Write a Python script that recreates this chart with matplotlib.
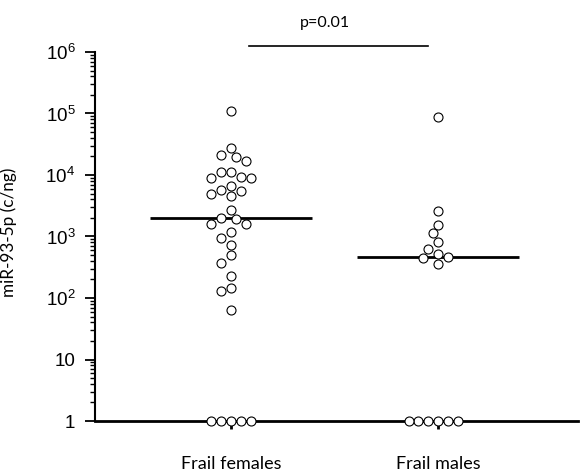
import numpy as np
import matplotlib
matplotlib.use("Agg")
import matplotlib.pyplot as plt
from matplotlib.ticker import LogLocator, FixedLocator, FixedFormatter, NullFormatter

plt.rcParams['font.family'] = ['Liberation Sans', 'DejaVu Sans']
CAL = ['Lato', 'DejaVu Sans']

categories = ["Frail females", "Frail males"]
# undetected samples are plotted at the axis floor (1 c/ng)
female_values = [110000, 27500, 21400, 19500, 16600, 11200, 11000, 9100, 9000, 9200,
                 6600, 5750, 5560, 4900, 4570, 2700, 2000, 1950, 1620, 1620, 1200,
                 955, 740, 500, 370, 230, 145, 132, 63,
                 1, 1, 1, 1, 1]
male_values = [87000, 2570, 1550, 1120, 810, 615, 510, 470, 450, 355,
               1, 1, 1, 1, 1, 1]
medians = [2000, 460]
p_text = "p=0.01"

W, H = 582, 472
fig = plt.figure(figsize=(W / 100, H / 100), dpi=100)
ax_l, ax_r, ax_b, ax_t = 95, 578, 421, 52
ax = fig.add_axes([ax_l / W, 1 - ax_b / H, (ax_r - ax_l) / W, (ax_b - ax_t) / H])
ax.set_yscale('log')
ax.set_ylim(1, 1e6)
ax.set_xlim(-0.657, 1.676)

px_per_unit = 207.0
px_per_decade = (ax_b - ax_t) / 6.0
diam = 9.8


def swarm(values):
    ys = np.log10(values) * px_per_decade
    order = np.argsort(-ys)
    placed = []
    offs = np.zeros(len(values))
    for i in order:
        y = ys[i]
        k = 0.0
        while True:
            cands = [0.0] if k == 0 else [-k * diam, k * diam]
            ok = None
            for c in cands:
                if all((c - px) ** 2 + (y - py) ** 2 >= (diam * 0.98) ** 2 for px, py in placed):
                    ok = c
                    break
            if ok is not None:
                offs[i] = ok
                placed.append((ok, y))
                break
            k += 0.5
    return offs / px_per_unit


for xi, (vals, med) in enumerate(zip([female_values, male_values], medians)):
    vals = np.array(vals, dtype=float)
    xo = swarm(vals)
    ax.plot([xi - 0.39, xi + 0.39], [med, med], color='black', lw=2, zorder=2,
            solid_capstyle='butt')
    ax.scatter(xi + xo, vals, s=42, facecolor='white', edgecolor='black',
               linewidth=0.8, zorder=3, clip_on=False)

for s in ['top', 'right']:
    ax.spines[s].set_visible(False)
ax.spines['bottom'].set_linewidth(2)
ax.spines['left'].set_linewidth(1.5)
ax.spines['bottom'].set_zorder(1)

ax.set_xticks([0, 1])
ax.set_xticklabels(categories, fontsize=13, family=CAL)
ax.tick_params(axis='x', length=6, width=2, pad=19, direction='out')

major = [1, 10, 100, 1e3, 1e4, 1e5, 1e6]
labels = ["1", "10", r"$\mathregular{10^2}$", r"$\mathregular{10^3}$",
          r"$\mathregular{10^4}$", r"$\mathregular{10^5}$", r"$\mathregular{10^6}$"]
ax.yaxis.set_major_locator(FixedLocator(major))
ax.yaxis.set_major_formatter(FixedFormatter(labels))
ax.yaxis.set_minor_locator(LogLocator(base=10, subs=np.arange(2, 10), numticks=20))
ax.yaxis.set_minor_formatter(NullFormatter())
ax.tick_params(axis='y', which='major', length=7.2, width=1.3, labelsize=13.5, pad=7)
ax.tick_params(axis='y', which='minor', length=3.6, width=1)
ax.set_ylabel("miR-93-5p (c/ng)", fontsize=12.3, family=CAL)
ax.yaxis.set_label_coords(-0.161, 0.512)

# significance bar
ax.plot([0.087, 0.952], [1.25e6, 1.25e6], color='black', lw=1.2, clip_on=False)
ax.text(0.454, 2.96e6, p_text, ha='center', va='center', fontsize=11.5, family=CAL)

fig.savefig("out.png", dpi=100)
